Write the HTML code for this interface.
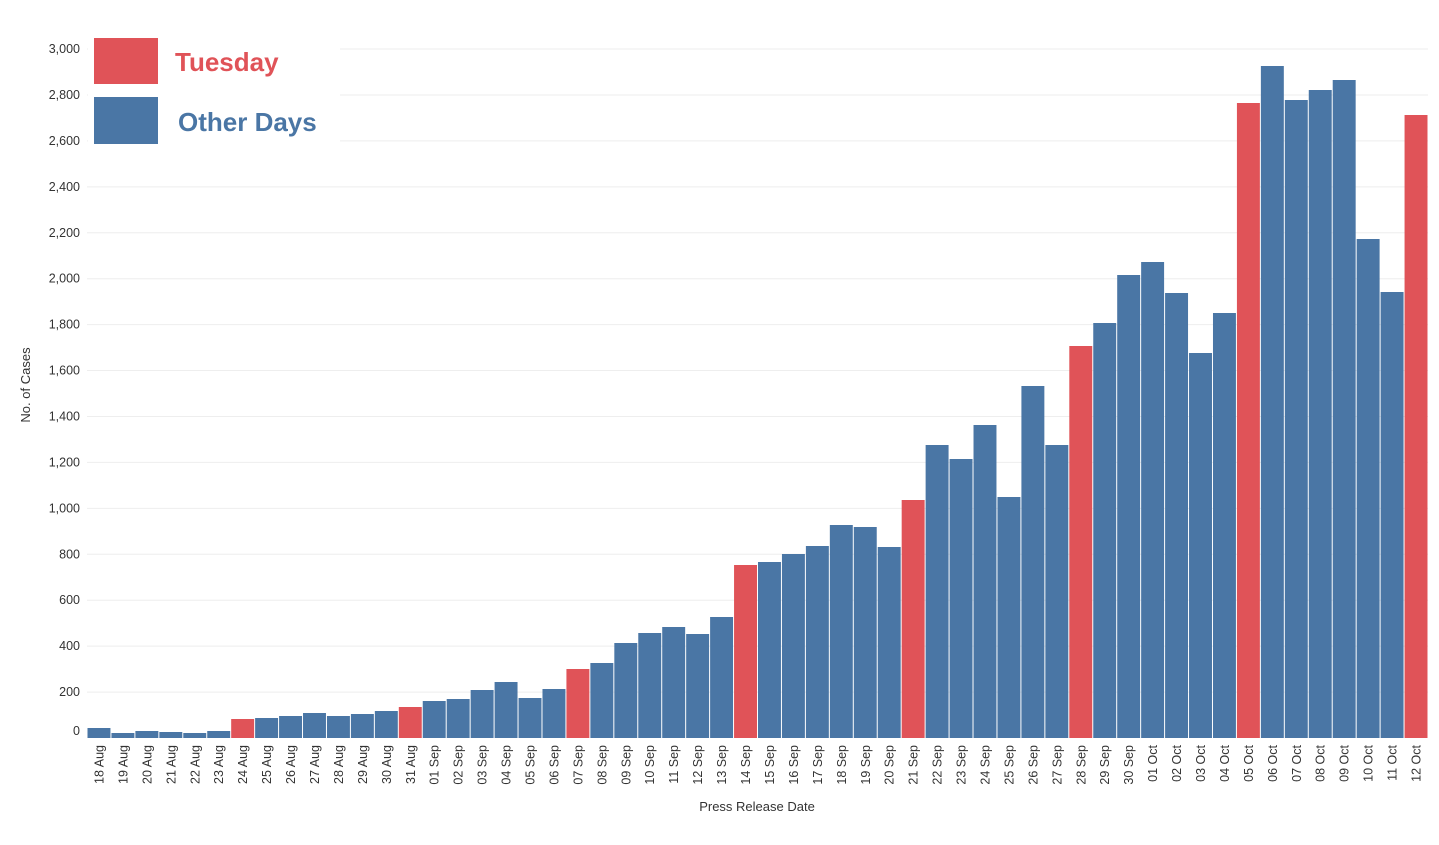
<!DOCTYPE html>
<html><head><meta charset="utf-8"><style>
body{margin:0;background:#fff;}
svg{display:block;font-family:"Liberation Sans",Arial,sans-serif;}
</style></head><body>
<svg id="s" width="1439" height="845" xmlns="http://www.w3.org/2000/svg">
<g id="grid"></g>
<g id="bars"></g>
<g id="labels" font-size="12.5" fill="#333"></g>
<rect x="88" y="30" width="252" height="120" fill="#fff"/>
<rect x="94" y="38" width="64" height="46" fill="#e05358"/>
<rect x="94" y="97" width="64" height="47" fill="#4a76a5"/>
<text x="175" y="71" font-size="26" font-weight="bold" fill="#e05358">Tuesday</text>
<text x="178" y="131" font-size="26" font-weight="bold" fill="#4a76a5">Other Days</text>
<text x="757" y="811" font-size="13" fill="#333" text-anchor="middle">Press Release Date</text>
<text transform="translate(30,385) rotate(-90)" font-size="13" fill="#333" text-anchor="middle">No. of Cases</text>
</svg>
<script>
var tops=[728,733,731,732,733,731,719,718,716,713,716,714,711,707,701,699,690,682,698,689,669,663,643,633,627,634,617,565,562,554,546,525,527,547,500,445,459,425,497,386,445,346,323,275,262,293,353,313,103,66,100,90,80,239,292,115];
var red=[6,13,20,27,34,41,48,55];
var ns="http://www.w3.org/2000/svg";
function el(t,a,p,txt){var e=document.createElementNS(ns,t);for(var k in a)e.setAttribute(k,a[k]);if(txt)e.textContent=txt;document.getElementById(p).appendChild(e);}
var base=738,step=45.93;
for(var i=0;i<=15;i++){var y=base-i*step;
 if(i>0)el("line",{x1:87,x2:1428,y1:y,y2:y,stroke:"#eee","stroke-width":1},"grid");
 var v=(i*200).toLocaleString("en-US");
 el("text",{x:80,y:(i==0?735:y+4),"text-anchor":"end"},"labels",v);}
var x0=87,w=(1428-87)/56;
var d=new Date(2020,7,18);var mon=["Jan","Feb","Mar","Apr","May","Jun","Jul","Aug","Sep","Oct","Nov","Dec"];
for(var i=0;i<56;i++){var x=x0+i*w;
 el("rect",{x:x+0.5,y:tops[i],width:w-1,height:base-tops[i],fill:red.indexOf(i)>=0?"#e05358":"#4a76a5"},"bars");
 var dd=new Date(2020,7,18+i);var s=("0"+dd.getDate()).slice(-2)+" "+mon[dd.getMonth()];
 var cx=x+w/2+4.5;
 el("text",{transform:"translate("+cx+",745) rotate(-90)","text-anchor":"end"},"labels",s);}
</script>
</body></html>
